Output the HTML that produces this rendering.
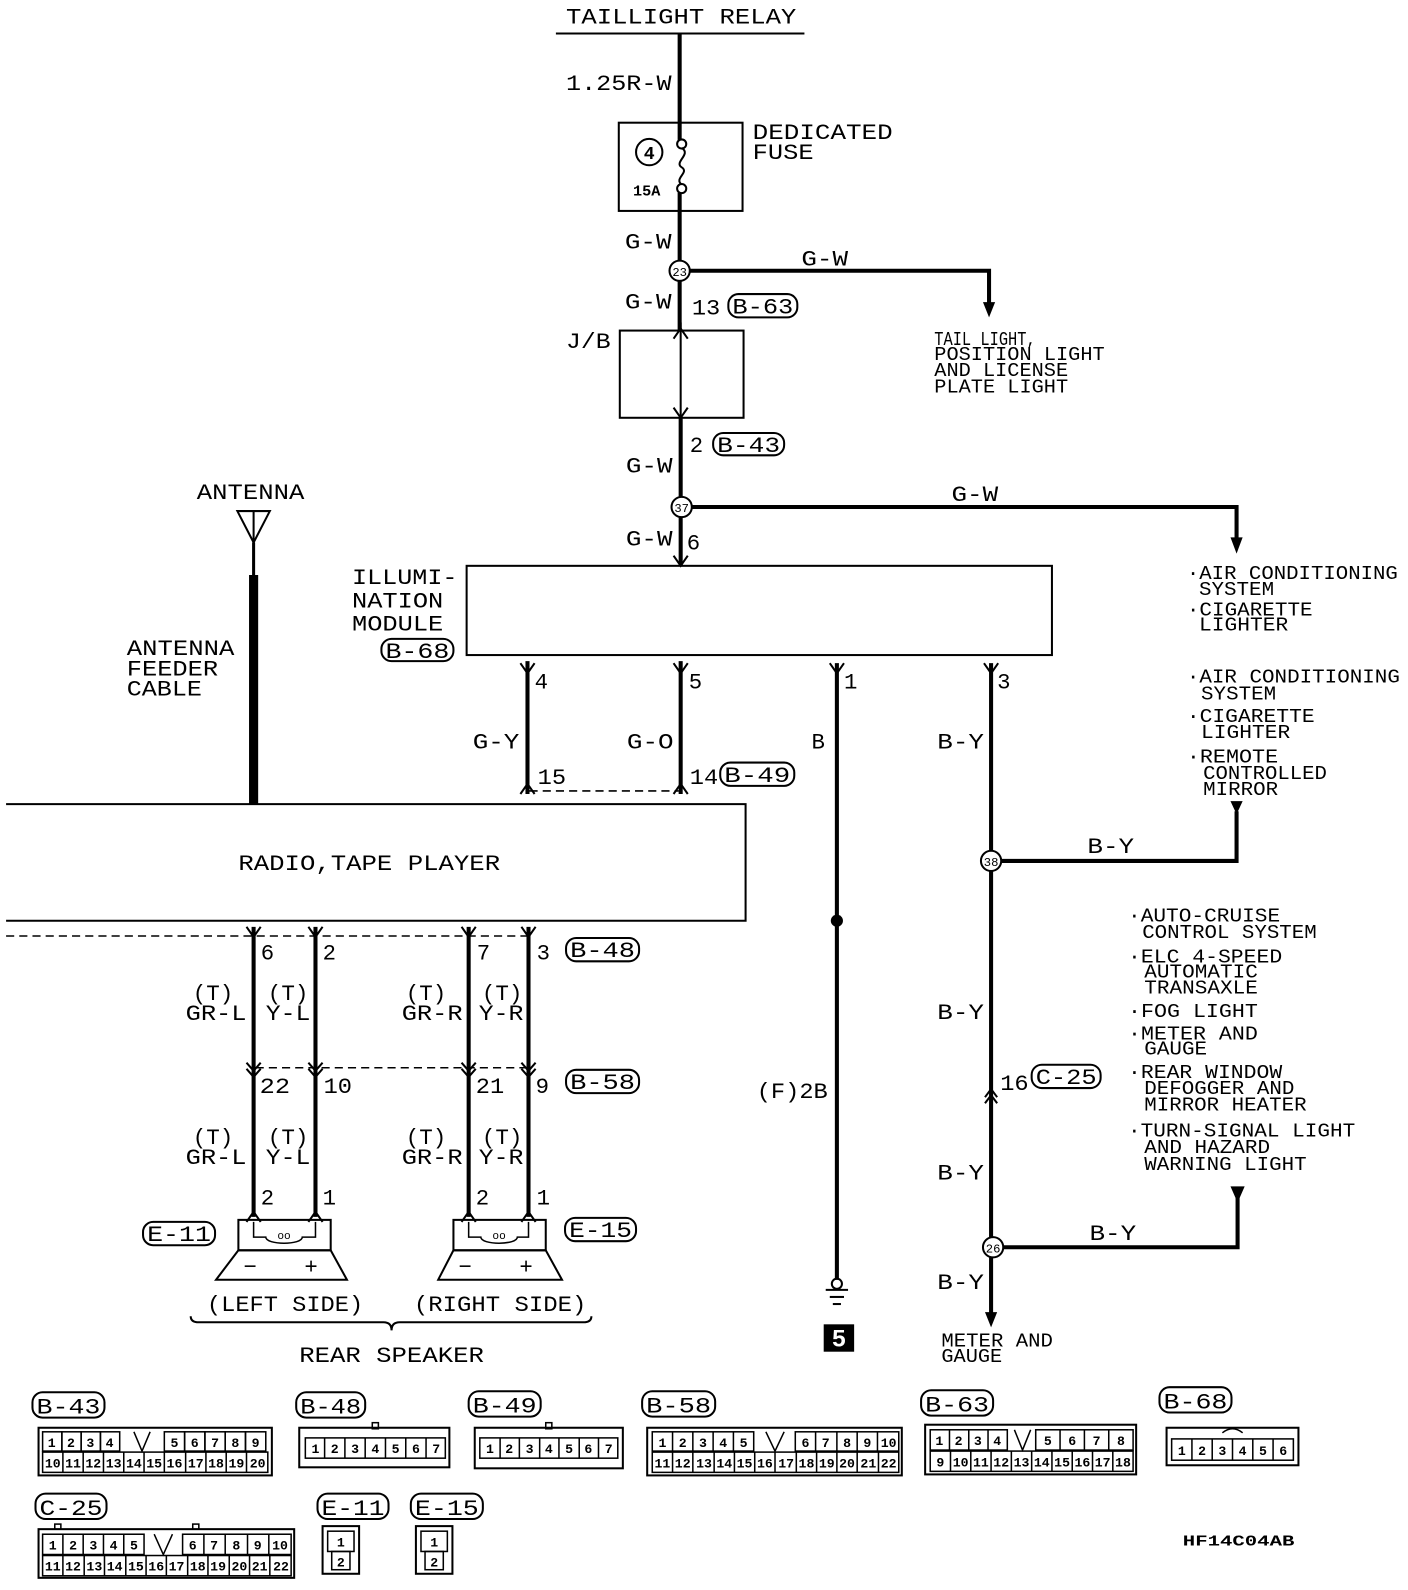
<!DOCTYPE html>
<html><head><meta charset="utf-8">
<style>
html,body{margin:0;padding:0;background:#fff;}
svg{display:block;}
text{font-family:"Liberation Mono","DejaVu Sans Mono",monospace;fill:#000;}
.l{font-size:22px;}
.s{font-size:19px;}
.c{font-size:13px;font-weight:bold;text-anchor:middle;}
.w{stroke:#000;stroke-width:4;fill:none;}
.t{stroke:#000;stroke-width:2;fill:none;}
.d{stroke:#000;stroke-width:1.5;fill:none;stroke-dasharray:8,5;}
.b{stroke:#000;stroke-width:2;fill:#fff;}
.k{stroke:#000;stroke-width:1.5;fill:none;}
</style></head>
<body>
<svg width="1408" height="1590" viewBox="0 0 1388 1568" preserveAspectRatio="none" xmlns="http://www.w3.org/2000/svg">
<!-- TOP -->
<text class="l" x="558" y="23" textLength="227" lengthAdjust="spacingAndGlyphs">TAILLIGHT RELAY</text>
<line x1="548" y1="33" x2="793" y2="33" class="t"/>
<line x1="670" y1="33" x2="670" y2="138" class="w"/>
<text class="l" x="558" y="89" textLength="104" lengthAdjust="spacingAndGlyphs">1.25R-W</text>
<rect x="610" y="121" width="122" height="87" class="t"/>
<circle cx="640" cy="150" r="13" class="t"/>
<text x="640" y="157" style="font-size:18px;font-weight:bold;text-anchor:middle">4</text>
<text x="624" y="193" style="font-size:15px;font-weight:bold">15A</text>
<circle cx="672" cy="142" r="4.5" class="t"/>
<circle cx="672" cy="186" r="4.5" class="t"/>
<path d="M672 146 C682 152,664 160,672 165 C680 170,664 176,672 182" class="t"/>
<text class="l" x="742" y="137" textLength="138" lengthAdjust="spacingAndGlyphs">DEDICATED</text>
<text class="l" x="742" y="157" textLength="60" lengthAdjust="spacingAndGlyphs">FUSE</text>
<line x1="670" y1="190" x2="670" y2="258" class="w"/>
<text class="l" x="616" y="245" textLength="46" lengthAdjust="spacingAndGlyphs">G-W</text>
<circle cx="670" cy="267" r="10" class="b"/>
<text x="670" y="272" style="font-size:12px;text-anchor:middle">23</text>
<polyline points="680,267 975,267 975,302" class="w"/>
<polygon points="969,298 981,298 975,313" fill="#000"/>
<text class="l" x="790" y="262" textLength="46" lengthAdjust="spacingAndGlyphs">G-W</text>
<text class="s" x="921" y="340" textLength="100" lengthAdjust="spacingAndGlyphs">TAIL LIGHT,</text>
<text class="s" x="921" y="355" textLength="168" lengthAdjust="spacingAndGlyphs">POSITION LIGHT</text>
<text class="s" x="921" y="371" textLength="132" lengthAdjust="spacingAndGlyphs">AND LICENSE</text>
<text class="s" x="921" y="387" textLength="132" lengthAdjust="spacingAndGlyphs">PLATE LIGHT</text>
<line x1="670" y1="277" x2="670" y2="326" class="w"/>
<text class="l" x="616" y="304" textLength="46" lengthAdjust="spacingAndGlyphs">G-W</text>
<text class="l" x="682" y="310" textLength="28" lengthAdjust="spacingAndGlyphs">13</text>
<rect x="718" y="290" width="68" height="23" rx="10" class="t"/>
<text class="l" x="722" y="309" textLength="60" lengthAdjust="spacingAndGlyphs">B-63</text>
<!-- J/B -->
<rect x="611" y="326" width="122" height="86" class="t"/>
<text class="l" x="558" y="343" textLength="44" lengthAdjust="spacingAndGlyphs">J/B</text>
<line x1="671" y1="318" x2="671" y2="420" class="t"/>
<polyline points="664,334 671,324 678,334" class="t"/>
<polyline points="664,402 671,412 678,402" class="t"/>
<line x1="671" y1="412" x2="671" y2="490" class="w"/>
<text class="l" x="680" y="446">2</text>
<rect x="703" y="427" width="70" height="22" rx="10" class="t"/>
<text class="l" x="707" y="446" textLength="62" lengthAdjust="spacingAndGlyphs">B-43</text>
<text class="l" x="617" y="466" textLength="46" lengthAdjust="spacingAndGlyphs">G-W</text>
<circle cx="672" cy="500" r="10" class="b"/>
<text x="672" y="505" style="font-size:12px;text-anchor:middle">37</text>
<polyline points="682,500 1219,500 1219,534" class="w"/>
<polygon points="1213,530 1225,530 1219,546" fill="#000"/>
<text class="l" x="938" y="494" textLength="46" lengthAdjust="spacingAndGlyphs">G-W</text>
<line x1="671" y1="510" x2="671" y2="558" class="w"/>
<text class="l" x="617" y="538" textLength="46" lengthAdjust="spacingAndGlyphs">G-W</text>
<text class="l" x="677" y="542">6</text>
<polyline points="664,548 671,558 678,548" class="t"/>
<!-- right lists -->
<text class="s" x="1170" y="571" textLength="208" lengthAdjust="spacingAndGlyphs">·AIR CONDITIONING</text>
<text class="s" x="1182" y="587" textLength="74" lengthAdjust="spacingAndGlyphs">SYSTEM</text>
<text class="s" x="1170" y="607" textLength="124" lengthAdjust="spacingAndGlyphs">·CIGARETTE</text>
<text class="s" x="1182" y="622" textLength="88" lengthAdjust="spacingAndGlyphs">LIGHTER</text>
<text class="s" x="1170" y="673" textLength="210" lengthAdjust="spacingAndGlyphs">·AIR CONDITIONING</text>
<text class="s" x="1184" y="690" textLength="74" lengthAdjust="spacingAndGlyphs">SYSTEM</text>
<text class="s" x="1170" y="712" textLength="126" lengthAdjust="spacingAndGlyphs">·CIGARETTE</text>
<text class="s" x="1184" y="728" textLength="88" lengthAdjust="spacingAndGlyphs">LIGHTER</text>
<text class="s" x="1170" y="752" textLength="90" lengthAdjust="spacingAndGlyphs">·REMOTE</text>
<text class="s" x="1186" y="768" textLength="122" lengthAdjust="spacingAndGlyphs">CONTROLLED</text>
<text class="s" x="1186" y="784" textLength="74" lengthAdjust="spacingAndGlyphs">MIRROR</text>
<!-- illumination module -->
<rect x="460" y="558" width="577" height="88" class="t"/>
<text class="l" x="347" y="576" textLength="104" lengthAdjust="spacingAndGlyphs">ILLUMI-</text>
<text class="l" x="347" y="599" textLength="90" lengthAdjust="spacingAndGlyphs">NATION</text>
<text class="l" x="347" y="622" textLength="90" lengthAdjust="spacingAndGlyphs">MODULE</text>
<rect x="376" y="630" width="71" height="22" rx="10" class="t"/>
<text class="l" x="380" y="649" textLength="63" lengthAdjust="spacingAndGlyphs">B-68</text>
<!-- antenna -->
<text class="l" x="194" y="492" textLength="106" lengthAdjust="spacingAndGlyphs">ANTENNA</text>
<polygon points="234,504 266,504 250,535" class="t"/>
<line x1="250" y1="504" x2="250" y2="535" class="t"/>
<line x1="250" y1="535" x2="250" y2="568" class="w" style="stroke-width:3"/>
<line x1="250" y1="567" x2="250" y2="793" style="stroke:#000;stroke-width:9"/>
<text class="l" x="125" y="646" textLength="106" lengthAdjust="spacingAndGlyphs">ANTENNA</text>
<text class="l" x="125" y="666" textLength="90" lengthAdjust="spacingAndGlyphs">FEEDER</text>
<text class="l" x="125" y="686" textLength="74" lengthAdjust="spacingAndGlyphs">CABLE</text>
<!-- module outputs -->
<line x1="520" y1="652" x2="520" y2="783" class="w"/>
<polyline points="513,654 520,664 527,654" class="t"/>
<polyline points="513,783 520,773 527,783" class="t"/>
<text class="l" x="527" y="679">4</text>
<text class="l" x="466" y="738" textLength="46" lengthAdjust="spacingAndGlyphs">G-Y</text>
<text class="l" x="530" y="773" textLength="28" lengthAdjust="spacingAndGlyphs">15</text>
<line x1="671" y1="652" x2="671" y2="783" class="w"/>
<polyline points="664,654 671,664 678,654" class="t"/>
<polyline points="664,783 671,773 678,783" class="t"/>
<text class="l" x="679" y="679">5</text>
<text class="l" x="618" y="738" textLength="46" lengthAdjust="spacingAndGlyphs">G-O</text>
<text class="l" x="680" y="773" textLength="28" lengthAdjust="spacingAndGlyphs">14</text>
<rect x="710" y="752" width="73" height="23" rx="10" class="t"/>
<text class="l" x="714" y="771" textLength="65" lengthAdjust="spacingAndGlyphs">B-49</text>
<line x1="522" y1="780" x2="669" y2="780" class="d"/>
<line x1="825" y1="654" x2="825" y2="1262" class="w"/>
<polyline points="818,654 825,664 832,654" class="t"/>
<text class="l" x="832" y="679">1</text>
<text class="l" x="800" y="738">B</text>
<circle cx="825" cy="908" r="6" fill="#000"/>
<text class="l" x="746" y="1083" textLength="70" lengthAdjust="spacingAndGlyphs">(F)2B</text>
<circle cx="825" cy="1266" r="5" class="t"/>
<line x1="814" y1="1272" x2="836" y2="1272" class="t"/>
<line x1="818" y1="1279" x2="832" y2="1279" class="t"/>
<line x1="821" y1="1286" x2="829" y2="1286" class="t"/>
<rect x="812" y="1306" width="30" height="27" fill="#000"/>
<text x="827" y="1328" style="font-size:24px;font-weight:bold;fill:#fff;text-anchor:middle;font-family:'Liberation Sans',sans-serif">5</text>
<!-- B-Y -->
<line x1="977" y1="654" x2="977" y2="1300" class="w"/>
<polyline points="970,654 977,664 984,654" class="t"/>
<text class="l" x="983" y="679">3</text>
<text class="l" x="924" y="738" textLength="46" lengthAdjust="spacingAndGlyphs">B-Y</text>
<polygon points="971,1294 983,1294 977,1309" fill="#000"/>
<circle cx="977" cy="849" r="10" class="b"/>
<text x="977" y="854" style="font-size:12px;text-anchor:middle">38</text>
<polyline points="987,849 1219,849 1219,800" class="w"/>
<polygon points="1213,790 1225,790 1219,803" fill="#000"/>
<text class="l" x="1072" y="841" textLength="46" lengthAdjust="spacingAndGlyphs">B-Y</text>
<text class="l" x="924" y="1005" textLength="46" lengthAdjust="spacingAndGlyphs">B-Y</text>
<polyline points="971,1082 977,1074 983,1082" class="t"/>
<polyline points="971,1088 977,1080 983,1088" class="t"/>
<text class="l" x="986" y="1075" textLength="28" lengthAdjust="spacingAndGlyphs">16</text>
<rect x="1017" y="1050" width="68" height="23" rx="10" class="t"/>
<text class="l" x="1021" y="1069" textLength="60" lengthAdjust="spacingAndGlyphs">C-25</text>
<text class="l" x="924" y="1163" textLength="46" lengthAdjust="spacingAndGlyphs">B-Y</text>
<circle cx="979" cy="1230" r="10" class="b"/>
<text x="979" y="1235" style="font-size:12px;text-anchor:middle">26</text>
<polyline points="989,1230 1220,1230 1220,1180" class="w"/>
<polygon points="1213,1170 1227,1170 1220,1186" fill="#000"/>
<text class="l" x="1074" y="1223" textLength="46" lengthAdjust="spacingAndGlyphs">B-Y</text>
<text class="l" x="924" y="1271" textLength="46" lengthAdjust="spacingAndGlyphs">B-Y</text>
<text class="s" x="928" y="1328" textLength="110" lengthAdjust="spacingAndGlyphs">METER AND</text>
<text class="s" x="928" y="1343" textLength="60" lengthAdjust="spacingAndGlyphs">GAUGE</text>
<!-- list 3 -->
<text class="s" x="1112" y="909" textLength="150" lengthAdjust="spacingAndGlyphs">·AUTO-CRUISE</text>
<text class="s" x="1126" y="925" textLength="172" lengthAdjust="spacingAndGlyphs">CONTROL SYSTEM</text>
<text class="s" x="1112" y="949" textLength="152" lengthAdjust="spacingAndGlyphs">·ELC 4-SPEED</text>
<text class="s" x="1128" y="964" textLength="112" lengthAdjust="spacingAndGlyphs">AUTOMATIC</text>
<text class="s" x="1128" y="980" textLength="112" lengthAdjust="spacingAndGlyphs">TRANSAXLE</text>
<text class="s" x="1112" y="1003" textLength="128" lengthAdjust="spacingAndGlyphs">·FOG LIGHT</text>
<text class="s" x="1112" y="1025" textLength="128" lengthAdjust="spacingAndGlyphs">·METER AND</text>
<text class="s" x="1128" y="1040" textLength="62" lengthAdjust="spacingAndGlyphs">GAUGE</text>
<text class="s" x="1112" y="1063" textLength="152" lengthAdjust="spacingAndGlyphs">·REAR WINDOW</text>
<text class="s" x="1128" y="1079" textLength="148" lengthAdjust="spacingAndGlyphs">DEFOGGER AND</text>
<text class="s" x="1128" y="1095" textLength="160" lengthAdjust="spacingAndGlyphs">MIRROR HEATER</text>
<text class="s" x="1112" y="1121" textLength="224" lengthAdjust="spacingAndGlyphs">·TURN-SIGNAL LIGHT</text>
<text class="s" x="1128" y="1137" textLength="124" lengthAdjust="spacingAndGlyphs">AND HAZARD</text>
<text class="s" x="1128" y="1154" textLength="160" lengthAdjust="spacingAndGlyphs">WARNING LIGHT</text>
<!-- radio -->
<polyline points="6,793 735,793 735,908 6,908" class="t"/>
<text class="l" x="235" y="858" textLength="258" lengthAdjust="spacingAndGlyphs">RADIO,TAPE PLAYER</text>
<line x1="6" y1="923" x2="520" y2="923" class="d"/>
<!-- speaker wires -->
<g class="w">
<line x1="250" y1="914" x2="250" y2="1200"/>
<line x1="311" y1="914" x2="311" y2="1200"/>
<line x1="462" y1="914" x2="462" y2="1200"/>
<line x1="521" y1="914" x2="521" y2="1200"/>
</g>
<g class="t">
<polyline points="243,914 250,924 257,914"/><polyline points="304,914 311,924 318,914"/>
<polyline points="455,914 462,924 469,914"/><polyline points="514,914 521,924 528,914"/>
<polyline points="243,1048 250,1056 257,1048"/><polyline points="243,1054 250,1062 257,1054"/>
<polyline points="304,1048 311,1056 318,1048"/><polyline points="304,1054 311,1062 318,1054"/>
<polyline points="455,1048 462,1056 469,1048"/><polyline points="455,1054 462,1062 469,1054"/>
<polyline points="514,1048 521,1056 528,1048"/><polyline points="514,1054 521,1062 528,1054"/>
<polyline points="243,1205 250,1195 257,1205"/><polyline points="304,1205 311,1195 318,1205"/>
<polyline points="455,1205 462,1195 469,1205"/><polyline points="514,1205 521,1195 528,1205"/>
</g>
<line x1="252" y1="1053" x2="519" y2="1053" class="d"/>
<text class="l" x="257" y="946">6</text><text class="l" x="318" y="946">2</text>
<text class="l" x="470" y="946">7</text><text class="l" x="529" y="946">3</text>
<rect x="558" y="925" width="72" height="23" rx="10" class="t"/>
<text class="l" x="562" y="944" textLength="64" lengthAdjust="spacingAndGlyphs">B-48</text>
<text class="l" x="256" y="1078" textLength="30" lengthAdjust="spacingAndGlyphs">22</text>
<text class="l" x="319" y="1078" textLength="28" lengthAdjust="spacingAndGlyphs">10</text>
<text class="l" x="469" y="1078" textLength="28" lengthAdjust="spacingAndGlyphs">21</text>
<text class="l" x="528" y="1078">9</text>
<rect x="558" y="1055" width="72" height="23" rx="10" class="t"/>
<text class="l" x="562" y="1074" textLength="64" lengthAdjust="spacingAndGlyphs">B-58</text>
<g class="l">
<text x="190" y="986" textLength="40" lengthAdjust="spacingAndGlyphs">(T)</text>
<text x="183" y="1006" textLength="60" lengthAdjust="spacingAndGlyphs">GR-L</text>
<text x="264" y="986" textLength="40" lengthAdjust="spacingAndGlyphs">(T)</text>
<text x="262" y="1006" textLength="44" lengthAdjust="spacingAndGlyphs">Y-L</text>
<text x="400" y="986" textLength="40" lengthAdjust="spacingAndGlyphs">(T)</text>
<text x="396" y="1006" textLength="60" lengthAdjust="spacingAndGlyphs">GR-R</text>
<text x="475" y="986" textLength="40" lengthAdjust="spacingAndGlyphs">(T)</text>
<text x="472" y="1006" textLength="44" lengthAdjust="spacingAndGlyphs">Y-R</text>
<text x="190" y="1128" textLength="40" lengthAdjust="spacingAndGlyphs">(T)</text>
<text x="183" y="1148" textLength="60" lengthAdjust="spacingAndGlyphs">GR-L</text>
<text x="264" y="1128" textLength="40" lengthAdjust="spacingAndGlyphs">(T)</text>
<text x="262" y="1148" textLength="44" lengthAdjust="spacingAndGlyphs">Y-L</text>
<text x="400" y="1128" textLength="40" lengthAdjust="spacingAndGlyphs">(T)</text>
<text x="396" y="1148" textLength="60" lengthAdjust="spacingAndGlyphs">GR-R</text>
<text x="475" y="1128" textLength="40" lengthAdjust="spacingAndGlyphs">(T)</text>
<text x="472" y="1148" textLength="44" lengthAdjust="spacingAndGlyphs">Y-R</text>
<text x="257" y="1188">2</text><text x="318" y="1188">1</text>
<text x="469" y="1188">2</text><text x="529" y="1188">1</text>
</g>
<!-- speakers -->
<rect x="235" y="1203" width="91" height="30" class="t"/>
<polygon points="235,1233 326,1233 342,1262 213,1262" class="t"/>
<path d="M250 1205 V1220 H262 C262 1228,298 1228,298 1220 H311 V1205" class="k"/>
<text x="280" y="1222" style="font-size:11px;text-anchor:middle">oo</text>
<text class="l" x="240" y="1256">−</text><text class="l" x="300" y="1256">+</text>
<rect x="141" y="1205" width="71" height="23" rx="10" class="t"/>
<text class="l" x="145" y="1224" textLength="63" lengthAdjust="spacingAndGlyphs">E-11</text>
<rect x="447" y="1203" width="91" height="30" class="t"/>
<polygon points="447,1233 538,1233 554,1262 432,1262" class="t"/>
<path d="M462 1205 V1220 H474 C474 1228,510 1228,510 1220 H521 V1205" class="k"/>
<text x="492" y="1222" style="font-size:11px;text-anchor:middle">oo</text>
<text class="l" x="452" y="1256">−</text><text class="l" x="512" y="1256">+</text>
<rect x="557" y="1201" width="70" height="23" rx="10" class="t"/>
<text class="l" x="561" y="1220" textLength="62" lengthAdjust="spacingAndGlyphs">E-15</text>
<text class="l" x="204" y="1293" textLength="154" lengthAdjust="spacingAndGlyphs">(LEFT SIDE)</text>
<text class="l" x="408" y="1293" textLength="170" lengthAdjust="spacingAndGlyphs">(RIGHT SIDE)</text>
<path d="M188 1298 Q188 1304,196 1304 H378 Q386 1304,386 1312 Q386 1304,394 1304 H575 Q583 1304,583 1298" class="t"/>
<text class="l" x="295" y="1343" textLength="182" lengthAdjust="spacingAndGlyphs">REAR SPEAKER</text>
<text x="1166" y="1524" style="font-size:15px;font-weight:bold" textLength="110" lengthAdjust="spacingAndGlyphs">HF14C04AB</text>

<!-- connector labels -->
<g class="t">
<rect x="32" y="1373" width="71" height="25" rx="10"/>
<rect x="292" y="1373" width="68" height="25" rx="10"/>
<rect x="462" y="1372" width="71" height="25" rx="10"/>
<rect x="633" y="1372" width="72" height="25" rx="10"/>
<rect x="908" y="1371" width="71" height="25" rx="10"/>
<rect x="1143" y="1368" width="71" height="25" rx="10"/>
<rect x="35" y="1473" width="70" height="25" rx="10"/>
<rect x="313" y="1473" width="70" height="25" rx="10"/>
<rect x="405" y="1473" width="71" height="25" rx="10"/>
</g>
<g class="l">
<text x="36" y="1394" textLength="63" lengthAdjust="spacingAndGlyphs">B-43</text>
<text x="296" y="1394" textLength="60" lengthAdjust="spacingAndGlyphs">B-48</text>
<text x="466" y="1393" textLength="63" lengthAdjust="spacingAndGlyphs">B-49</text>
<text x="637" y="1393" textLength="64" lengthAdjust="spacingAndGlyphs">B-58</text>
<text x="912" y="1392" textLength="63" lengthAdjust="spacingAndGlyphs">B-63</text>
<text x="1147" y="1389" textLength="63" lengthAdjust="spacingAndGlyphs">B-68</text>
<text x="39" y="1494" textLength="62" lengthAdjust="spacingAndGlyphs">C-25</text>
<text x="317" y="1494" textLength="62" lengthAdjust="spacingAndGlyphs">E-11</text>
<text x="409" y="1494" textLength="63" lengthAdjust="spacingAndGlyphs">E-15</text>
</g>

<!-- B-43 -->
<rect x="38" y="1408" width="230" height="47" class="t"/>
<g class="k">
<rect x="42" y="1412" width="19" height="19"/><rect x="61" y="1412" width="19" height="19"/><rect x="80" y="1412" width="19" height="19"/><rect x="99" y="1412" width="19" height="19"/>
<polyline points="132,1412 140,1431 148,1412"/>
<rect x="162" y="1412" width="20" height="19"/><rect x="182" y="1412" width="20" height="19"/><rect x="202" y="1412" width="20" height="19"/><rect x="222" y="1412" width="20" height="19"/><rect x="242" y="1412" width="20" height="19"/>
<rect x="42" y="1432" width="222" height="20"/>
<path d="M62 1432V1452M82 1432V1452M102 1432V1452M122 1432V1452M142 1432V1452M162 1432V1452M183 1432V1452M203 1432V1452M223 1432V1452M243 1432V1452"/>
</g>
<g class="c">
<text x="51" y="1427">1</text><text x="70" y="1427">2</text><text x="89" y="1427">3</text><text x="108" y="1427">4</text>
<text x="172" y="1427">5</text><text x="192" y="1427">6</text><text x="212" y="1427">7</text><text x="232" y="1427">8</text><text x="252" y="1427">9</text>
<text x="52" y="1447">10</text><text x="72" y="1447">11</text><text x="92" y="1447">12</text><text x="112" y="1447">13</text><text x="132" y="1447">14</text><text x="152" y="1447">15</text><text x="172" y="1447">16</text><text x="193" y="1447">17</text><text x="213" y="1447">18</text><text x="233" y="1447">19</text><text x="254" y="1447">20</text>
</g>

<!-- B-48 -->
<rect x="295" y="1408" width="148" height="39" class="t"/>
<g class="k"><rect x="301" y="1418" width="138" height="20"/>
<path d="M320 1418V1438M340 1418V1438M360 1418V1438M380 1418V1438M400 1418V1438M420 1418V1438"/>
<rect x="367" y="1403" width="6" height="6"/></g>
<g class="c"><text x="311" y="1433">1</text><text x="330" y="1433">2</text><text x="350" y="1433">3</text><text x="370" y="1433">4</text><text x="390" y="1433">5</text><text x="410" y="1433">6</text><text x="430" y="1433">7</text></g>

<!-- B-49 -->
<rect x="468" y="1408" width="146" height="40" class="t"/>
<g class="k"><rect x="473" y="1418" width="136" height="20"/>
<path d="M493 1418V1438M512 1418V1438M532 1418V1438M551 1418V1438M571 1418V1438M590 1418V1438"/>
<rect x="538" y="1403" width="6" height="6"/></g>
<g class="c"><text x="483" y="1433">1</text><text x="502" y="1433">2</text><text x="522" y="1433">3</text><text x="541" y="1433">4</text><text x="561" y="1433">5</text><text x="580" y="1433">6</text><text x="600" y="1433">7</text></g>

<!-- B-58 -->
<rect x="638" y="1408" width="251" height="47" class="t"/>
<g class="k">
<rect x="643" y="1412" width="100" height="19"/>
<path d="M663 1412V1431M683 1412V1431M703 1412V1431M723 1412V1431"/>
<polyline points="755,1412 764,1431 773,1412"/>
<rect x="784" y="1412" width="102" height="19"/>
<path d="M804 1412V1431M825 1412V1431M845 1412V1431M865 1412V1431"/>
<rect x="643" y="1432" width="243" height="20"/>
<path d="M663 1432V1452M683 1432V1452M704 1432V1452M724 1432V1452M744 1432V1452M764 1432V1452M785 1432V1452M805 1432V1452M825 1432V1452M845 1432V1452M866 1432V1452"/>
</g>
<g class="c">
<text x="653" y="1427">1</text><text x="673" y="1427">2</text><text x="693" y="1427">3</text><text x="713" y="1427">4</text><text x="733" y="1427">5</text>
<text x="794" y="1427">6</text><text x="814" y="1427">7</text><text x="835" y="1427">8</text><text x="855" y="1427">9</text><text x="876" y="1427">10</text>
<text x="653" y="1447">11</text><text x="673" y="1447">12</text><text x="694" y="1447">13</text><text x="714" y="1447">14</text><text x="734" y="1447">15</text><text x="754" y="1447">16</text><text x="775" y="1447">17</text><text x="795" y="1447">18</text><text x="815" y="1447">19</text><text x="835" y="1447">20</text><text x="856" y="1447">21</text><text x="876" y="1447">22</text>
</g>

<!-- B-63 -->
<rect x="912" y="1405" width="208" height="49" class="t"/>
<g class="k">
<rect x="917" y="1410" width="76" height="20"/>
<path d="M936 1410V1430M955 1410V1430M974 1410V1430"/>
<polyline points="1000,1410 1008,1430 1016,1410"/>
<rect x="1021" y="1410" width="96" height="20"/>
<path d="M1045 1410V1430M1069 1410V1430M1093 1410V1430"/>
<rect x="917" y="1431" width="200" height="20"/>
<path d="M937 1431V1451M957 1431V1451M977 1431V1451M997 1431V1451M1017 1431V1451M1037 1431V1451M1057 1431V1451M1077 1431V1451M1097 1431V1451"/>
</g>
<g class="c">
<text x="926" y="1425">1</text><text x="945" y="1425">2</text><text x="964" y="1425">3</text><text x="983" y="1425">4</text>
<text x="1033" y="1425">5</text><text x="1057" y="1425">6</text><text x="1081" y="1425">7</text><text x="1105" y="1425">8</text>
<text x="927" y="1446">9</text><text x="947" y="1446">10</text><text x="967" y="1446">11</text><text x="987" y="1446">12</text><text x="1007" y="1446">13</text><text x="1027" y="1446">14</text><text x="1047" y="1446">15</text><text x="1067" y="1446">16</text><text x="1087" y="1446">17</text><text x="1107" y="1446">18</text>
</g>

<!-- B-68 -->
<rect x="1150" y="1408" width="130" height="37" class="t"/>
<g class="k"><rect x="1155" y="1419" width="120" height="21"/>
<path d="M1175 1419V1440M1195 1419V1440M1215 1419V1440M1235 1419V1440M1255 1419V1440"/>
<path d="M1205 1413 Q1215 1405,1225 1413"/></g>
<g class="c"><text x="1165" y="1435">1</text><text x="1185" y="1435">2</text><text x="1205" y="1435">3</text><text x="1225" y="1435">4</text><text x="1245" y="1435">5</text><text x="1265" y="1435">6</text></g>

<!-- C-25 -->
<rect x="38" y="1508" width="252" height="48" class="t"/>
<g class="k">
<rect x="42" y="1513" width="100" height="20"/>
<path d="M62 1513V1533M82 1513V1533M102 1513V1533M122 1513V1533"/>
<polyline points="152,1513 161,1533 170,1513"/>
<rect x="180" y="1513" width="107" height="20"/>
<path d="M201 1513V1533M222 1513V1533M244 1513V1533M265 1513V1533"/>
<rect x="42" y="1534" width="245" height="20"/>
<path d="M62 1534V1554M83 1534V1554M103 1534V1554M124 1534V1554M144 1534V1554M164 1534V1554M185 1534V1554M205 1534V1554M226 1534V1554M246 1534V1554M266 1534V1554"/>
<rect x="54" y="1503" width="6" height="5"/><rect x="190" y="1503" width="6" height="5"/>
</g>
<g class="c">
<text x="52" y="1528">1</text><text x="72" y="1528">2</text><text x="92" y="1528">3</text><text x="112" y="1528">4</text><text x="132" y="1528">5</text>
<text x="190" y="1528">6</text><text x="211" y="1528">7</text><text x="233" y="1528">8</text><text x="254" y="1528">9</text><text x="276" y="1528">10</text>
<text x="52" y="1549">11</text><text x="72" y="1549">12</text><text x="93" y="1549">13</text><text x="113" y="1549">14</text><text x="134" y="1549">15</text><text x="154" y="1549">16</text><text x="174" y="1549">17</text><text x="195" y="1549">18</text><text x="215" y="1549">19</text><text x="236" y="1549">20</text><text x="256" y="1549">21</text><text x="277" y="1549">22</text>
</g>

<!-- E-11 / E-15 -->
<rect x="318" y="1505" width="36" height="47" class="t"/>
<g class="k"><rect x="323" y="1510" width="26" height="20"/><rect x="327" y="1530" width="18" height="18"/></g>
<text class="c" x="336" y="1525">1</text><text class="c" x="336" y="1545">2</text>
<rect x="410" y="1505" width="36" height="47" class="t"/>
<g class="k"><rect x="415" y="1510" width="26" height="20"/><rect x="419" y="1530" width="18" height="18"/></g>
<text class="c" x="428" y="1525">1</text><text class="c" x="428" y="1545">2</text>
</svg>
</body></html>
